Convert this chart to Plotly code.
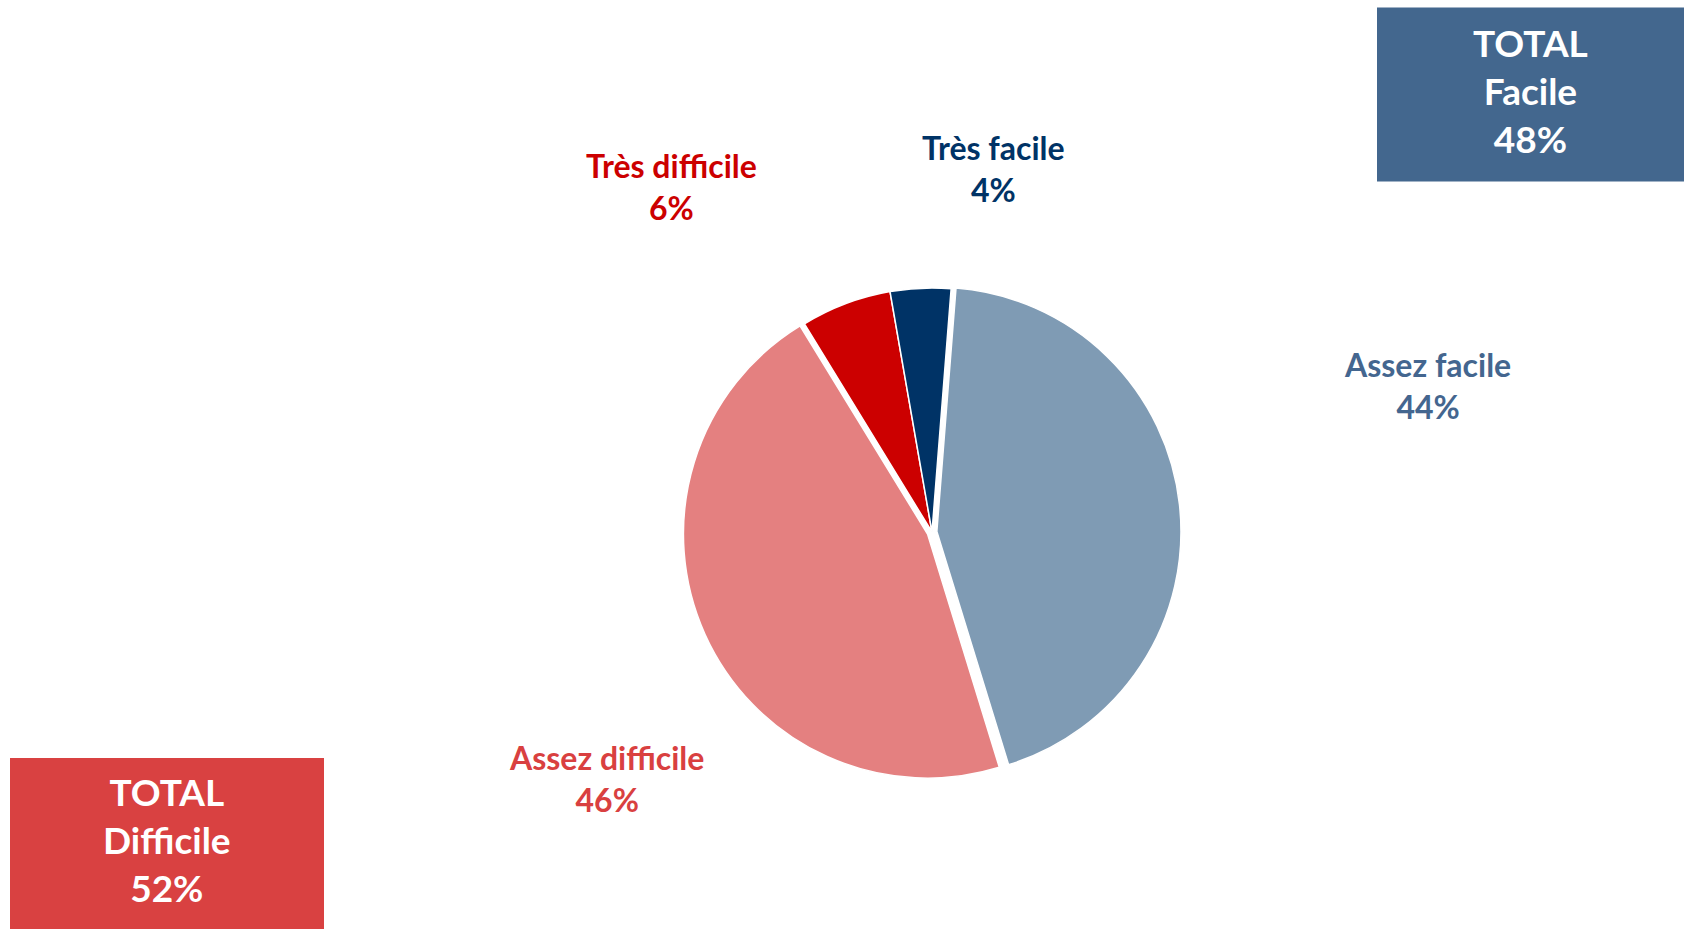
import plotly.graph_objects as go

# data
categories = ["Assez facile", "Assez difficile", "Très difficile", "Très facile"]
values = [44, 46, 6, 4]
slice_colors = ["#7f9bb4", "#e48080", "#cc0000", "#003366"]
label_colors = ["#44668f", "#d94040", "#cc0000", "#003366"]
pulls = [0.02, 0.02, 0, 0]

totals = ["Facile", "Difficile"]
total_values = [48, 52]
total_colors = ["#43678e", "#d94141"]

W, H = 1684, 929
FONT = "Lato"

fig = go.Figure()
fig.add_trace(go.Pie(
    labels=categories,
    values=values,
    sort=False,
    direction="clockwise",
    rotation=4.5,
    pull=pulls,
    marker=dict(colors=slice_colors, line=dict(color="white", width=1.5)),
    textinfo="none",
    hoverinfo="label+percent",
    showlegend=False,
    domain=dict(x=[683 / W, 1181 / W], y=[1 - 781 / H, 1 - 283 / H]),
))

# label centres in pixels (x, y of the middle of the two lines)
label_pos = [(1427, 385), (606, 778), (671, 186), (993, 168)]
for cat, v, col, (px, py) in zip(categories, values, label_colors, label_pos):
    fig.add_annotation(
        x=px / W, y=1 - py / H, xref="paper", yref="paper",
        text=f"<b>{cat}<br>{v}%</b>", showarrow=False,
        font=dict(family=FONT, size=32, color=col),
        align="center", xanchor="center", yanchor="middle",
    )

# total boxes
boxes = [(1377, 7.5, 1684, 181.5), (10, 758, 324, 929)]
for name, v, col, (x0, y0, x1, y1) in zip(totals, total_values, total_colors, boxes):
    fig.add_shape(type="rect", xref="paper", yref="paper",
                  x0=x0 / W, x1=x1 / W, y0=1 - y1 / H, y1=1 - y0 / H,
                  fillcolor=col, line=dict(width=0), layer="below")
    fig.add_annotation(
        x=(x0 + x1) / 2 / W, y=1 - (y0 + y1) / 2 / H + 0.004, xref="paper", yref="paper",
        text=f"<b>TOTAL<br>{name}<br>{v}%</b>", showarrow=False,
        font=dict(family=FONT, size=37, color="white"),
        align="center", xanchor="center", yanchor="middle",
    )

fig.update_layout(
    width=W, height=H,
    margin=dict(l=0, r=0, t=0, b=0),
    paper_bgcolor="white",
    plot_bgcolor="white",
)

fig.write_html("out.html", config={"displayModeBar": False},
               post_script="document.body.style.margin='0';document.body.style.overflow='hidden';")
